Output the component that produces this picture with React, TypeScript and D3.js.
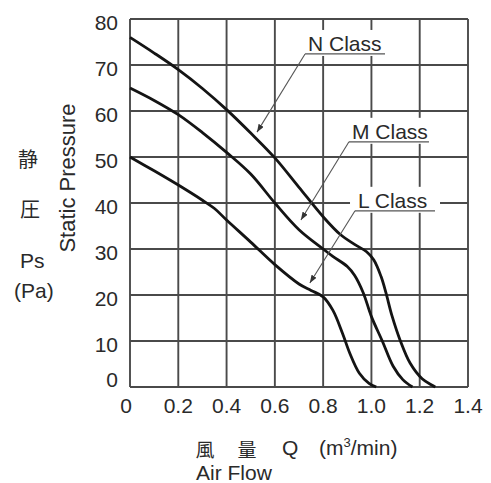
import React from "react";
import * as d3 from "d3";

// ---- data ----
const xTicks = [0, 0.2, 0.4, 0.6, 0.8, 1.0, 1.2, 1.4];
const xTickLabels = ["0", "0.2", "0.4", "0.6", "0.8", "1.0", "1.2", "1.4"];
const yTicks = [0, 10, 20, 30, 40, 50, 60, 70, 80];

const nFlow = [0, 0.1, 0.2, 0.3, 0.4, 0.5, 0.6, 0.7, 0.8, 0.87, 0.93, 0.98, 1.01, 1.04, 1.06, 1.085, 1.12, 1.16, 1.21, 1.265];
const nPa = [76, 72.6, 69, 64.9, 60.3, 55.2, 49.8, 43.4, 37, 33.2, 31, 29.4, 27.6, 24, 20.5, 15.5, 10, 5.2, 1.8, 0];

const mFlow = [0, 0.1, 0.2, 0.3, 0.4, 0.5, 0.6, 0.7, 0.8, 0.84, 0.9, 0.93, 0.966, 1.0, 1.045, 1.09, 1.13, 1.17];
const mPa = [65, 62.3, 59.2, 55.3, 51, 46.3, 40, 34.2, 30, 28.4, 26.2, 24.3, 20.5, 15.3, 10, 4.5, 1.6, 0];

const lFlow = [0, 0.1, 0.2, 0.3, 0.35, 0.4, 0.5, 0.6, 0.7, 0.75, 0.8, 0.84, 0.88, 0.91, 0.95, 0.99, 1.02];
const lPa = [50, 47, 43.9, 40.6, 38.8, 36.3, 31.5, 26.6, 22.4, 21, 19.6, 16.7, 11.7, 7.4, 3, 0.8, 0];

const classNames = ["N Class", "M Class", "L Class"];
const labelFlow = [0.725, 0.907, 0.932];
const labelPa = [72.4, 53.3, 38.3];
const tipFlow = [0.526, 0.708, 0.745];
const tipPa = [55.4, 36.3, 22.6];

const W = 491;
const H = 483;
const FONT = "'Liberation Sans', Arial, Helvetica, sans-serif";
const CJK = "'Noto Sans CJK JP', 'Noto Sans CJK SC', sans-serif";
const TEXT = "#2a2a2a";
const GRID = "#4a4a4a";

export default function App() {
  const x = d3.scaleLinear().domain([0, 1.4]).range([130, 468]);
  const y = d3.scaleLinear().domain([0, 80]).range([387, 19]);

  const line = d3
    .line<[number, number]>()
    .x((d) => x(d[0]))
    .y((d) => y(d[1]))
    .curve(d3.curveCatmullRom.alpha(0.5));

  const series = [
    d3.zip(nFlow, nPa) as [number, number][],
    d3.zip(mFlow, mPa) as [number, number][],
    d3.zip(lFlow, lPa) as [number, number][],
  ];

  return (
    <svg
      width={W}
      height={H}
      viewBox={`0 0 ${W} ${H}`}
      style={{ position: "absolute", left: 0, top: 0, background: "#fff" }}
    >
      <defs>
        <marker
          id="arr"
          viewBox="0 0 8 6"
          refX={8}
          refY={3}
          markerWidth={8}
          markerHeight={6}
          markerUnits="userSpaceOnUse"
          orient="auto"
        >
          <path d="M0,0 L8,3 L0,6 Z" fill="#333" />
        </marker>
      </defs>
      <rect x={0} y={0} width={W} height={H} fill="#fff" />

      {/* grid */}
      {xTicks.map((t) => (
        <line key={"vx" + t} x1={x(t)} x2={x(t)} y1={y(0)} y2={y(80)} stroke={GRID} strokeWidth={1.9} />
      ))}
      {yTicks.map((t) => (
        <line key={"hy" + t} x1={x(0)} x2={x(1.4)} y1={y(t)} y2={y(t)} stroke={GRID} strokeWidth={1.9} />
      ))}

      {/* label backgrounds */}
      {classNames.map((n, i) => (
        <rect
          key={"bg" + n}
          x={x(labelFlow[i]) - 5}
          y={y(labelPa[i]) - 24}
          width={90}
          height={26}
          fill="#fff"
        />
      ))}

      {/* curves */}
      {series.map((s, i) => (
        <path key={"c" + i} d={line(s) || ""} fill="none" stroke="#141414" strokeWidth={2.8} strokeLinejoin="round" />
      ))}

      {/* annotations */}
      {classNames.map((n, i) => {
        const lx = x(labelFlow[i]);
        const ly = y(labelPa[i]);
        return (
          <g key={"a" + n}>
            <line x1={lx} y1={ly} x2={lx + 80} y2={ly} stroke="#555" strokeWidth={1.2} />
            <line
              x1={lx}
              y1={ly}
              x2={x(tipFlow[i])}
              y2={y(tipPa[i])}
              stroke="#555"
              strokeWidth={1.1}
              markerEnd="url(#arr)"
            />
            <text x={lx + 3} y={ly - 3} fontFamily={FONT} fontSize={21} fill={TEXT}>
              {n}
            </text>
          </g>
        );
      })}

      {/* y tick labels */}
      {yTicks.map((t) => (
        <text
          key={"yl" + t}
          x={118}
          y={y(t) + (t === 0 ? 0 : 10.5)}
          textAnchor="end"
          fontFamily={FONT}
          fontSize={21}
          fill={TEXT}
        >
          {String(t)}
        </text>
      ))}

      {/* x tick labels */}
      {xTicks.map((t, i) => (
        <text
          key={"xl" + t}
          x={x(t) - (t === 0 ? 4 : 0)}
          y={413}
          textAnchor="middle"
          fontFamily={FONT}
          fontSize={21}
          fill={TEXT}
        >
          {xTickLabels[i]}
        </text>
      ))}

      {/* y axis titles */}
      <text x={28} y={158} textAnchor="middle" dominantBaseline="central" fontFamily={CJK} fontSize={20} fill={TEXT}>
        静
      </text>
      <text x={30} y={208} textAnchor="middle" dominantBaseline="central" fontFamily={CJK} fontSize={20} fill={TEXT}>
        圧
      </text>
      <text x={20} y={268} fontFamily={FONT} fontSize={21} fill={TEXT}>
        Ps
      </text>
      <text x={14} y={298} fontFamily={FONT} fontSize={21} fill={TEXT}>
        (Pa)
      </text>
      <text
        transform="translate(75,178) rotate(-90)"
        textAnchor="middle"
        fontFamily={FONT}
        fontSize={22}
        fill={TEXT}
      >
        Static Pressure
      </text>

      {/* x axis titles */}
      <text x={205} y={448} textAnchor="middle" dominantBaseline="central" fontFamily={CJK} fontSize={19} fill={TEXT}>
        風
      </text>
      <text x={247} y={448} textAnchor="middle" dominantBaseline="central" fontFamily={CJK} fontSize={19} fill={TEXT}>
        量
      </text>
      <text x={282} y={455} fontFamily={FONT} fontSize={21} fill={TEXT}>
        Q
      </text>
      <text x={319} y={455} fontFamily={FONT} fontSize={21} fill={TEXT}>
        (m<tspan fontSize={13} dy={-8}>3</tspan>
        <tspan dy={8}>/min)</tspan>
      </text>
      <text x={196} y={480} fontFamily={FONT} fontSize={21} fill={TEXT}>
        Air Flow
      </text>
    </svg>
  );
}
